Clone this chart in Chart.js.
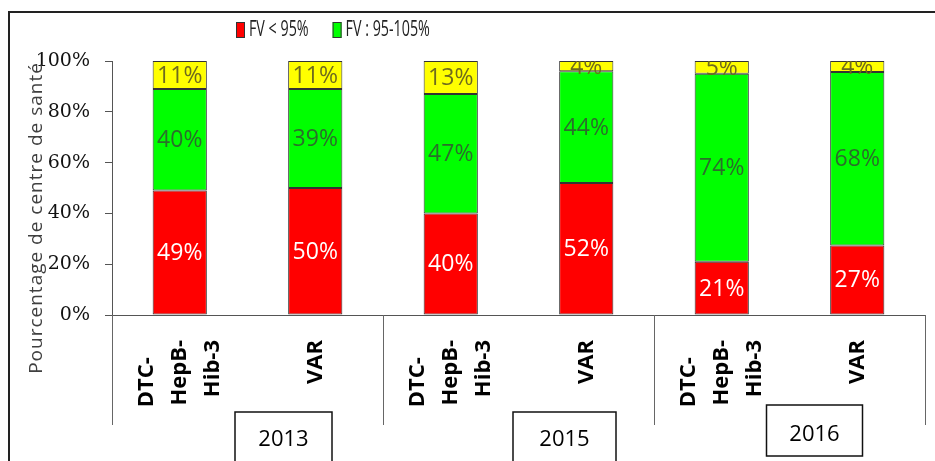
<!DOCTYPE html>
<html lang="fr">
<head>
<meta charset="UTF-8">
<title>FV par antigène 2013-2016</title>
<script src="https://cdn.jsdelivr.net/npm/chart.js@4.4.0/dist/chart.umd.min.js"></script>
<style>
  html, body { margin: 0; padding: 0; background: #fff; }
  #wrap { width: 935px; height: 461px; position: relative; }
</style>
</head>
<body>
<div id="wrap"><canvas id="chart"></canvas></div>
<script>
// data (percent of health centres)
const categories = [
  ['DTC-   ', 'HepB-', 'Hib-3'], ['', 'VAR', ''],
  ['DTC-   ', 'HepB-', 'Hib-3'], ['', 'VAR', ''],
  ['DTC-   ', 'HepB-', 'Hib-3'], ['', 'VAR', '']
];
const years = ['2013', '2015', '2016'];
const fvLow = [49, 50, 40, 52, 21, 27.4];      // FV < 95%
const fvOk = [40, 39, 47, 44, 74, 68.3];       // FV : 95-105%
const fvHigh = [11, 11, 13, 4, 5, 4.3];        // FV > 105% (not in legend)
const yTicks = [0, 20, 40, 60, 80, 100];

// where the hand placed year boxes sit, relative to each year group
const yearBoxes = [
  { dx: 36, top: 97, w: 97, h: 60, textY: 125 },
  { dx: 46, top: 97, w: 103, h: 60, textY: 125 },
  { dx: 25, top: 90, w: 96, h: 51, textY: 120 }
];

const labelColors = ['#ffffff', '#2b6e2b', '#6e6a1e'];

const decor = {
  id: 'decor',
  afterDatasetsDraw(chart) {
    const ctx = chart.ctx;
    const area = chart.chartArea;
    ctx.save();
    ctx.beginPath();
    ctx.rect(area.left, area.top, area.right - area.left, area.bottom - area.top);
    ctx.clip();
    ctx.font = '23px "Open Sans"';
    ctx.textAlign = 'center';
    ctx.textBaseline = 'middle';
    chart.data.datasets.forEach((ds, di) => {
      const meta = chart.getDatasetMeta(di);
      meta.data.forEach((bar, i) => {
        ctx.fillStyle = labelColors[di];
        ctx.fillText(Math.round(ds.data[i]) + '%', bar.x, (bar.y + bar.base) / 2 + 1);
      });
    });
    ctx.restore();
  },
  afterDraw(chart) {
    const ctx = chart.ctx;
    const area = chart.chartArea;
    const x = chart.scales.x;
    ctx.save();

    // outer frame (left and top only)
    ctx.strokeStyle = '#222';
    ctx.lineWidth = 2;
    ctx.beginPath();
    ctx.moveTo(9, 461);
    ctx.lineTo(9, 12);
    ctx.lineTo(935, 12);
    ctx.stroke();

    // group separators under the axis
    const step = x.getPixelForValue(1) - x.getPixelForValue(0);
    ctx.strokeStyle = '#666';
    ctx.lineWidth = 1;
    for (let g = 0; g <= years.length; g++) {
      const px = Math.round(x.getPixelForValue(g * 2) - step / 2) + 0.5;
      ctx.beginPath();
      ctx.moveTo(px, area.bottom);
      ctx.lineTo(px, area.bottom + 110);
      ctx.stroke();
    }

    // year boxes
    ctx.font = '22px "Open Sans"';
    ctx.textAlign = 'center';
    ctx.textBaseline = 'middle';
    years.forEach((yr, g) => {
      const b = yearBoxes[g];
      const cx = (x.getPixelForValue(g * 2) + x.getPixelForValue(g * 2 + 1)) / 2 + b.dx;
      ctx.fillStyle = '#fff';
      ctx.fillRect(cx - b.w / 2, area.bottom + b.top, b.w, b.h);
      ctx.strokeStyle = '#111';
      ctx.lineWidth = 1.5;
      ctx.strokeRect(cx - b.w / 2, area.bottom + b.top, b.w, b.h);
      ctx.fillStyle = '#000';
      ctx.fillText(yr, cx, area.bottom + b.textY);
    });

    // y axis title, drawn over the tick labels as in the original
    ctx.save();
    ctx.translate(37, area.top + 157);
    ctx.rotate(-Math.PI / 2);
    ctx.font = '19px "Open Sans"';
    ctx.letterSpacing = '1px';
    ctx.fillStyle = '#404040';
    ctx.fillText('Pourcentage de centre de santé', 0, 0);
    ctx.restore();

    // legend: first two series only, narrow text like the original
    ctx.font = '21px "Open Sans"';
    ctx.textAlign = 'left';
    ctx.textBaseline = 'middle';
    const squeeze = 0.68;
    const items = chart.data.datasets.slice(0, 2);
    let lx = 236;
    items.forEach(d => {
      ctx.fillStyle = d.backgroundColor;
      ctx.fillRect(lx, 22, 9, 16);
      ctx.strokeStyle = '#333';
      ctx.lineWidth = 1;
      ctx.strokeRect(lx + 0.5, 22.5, 8, 15);
      ctx.save();
      ctx.translate(lx + 13, 30);
      ctx.scale(squeeze, 1);
      ctx.fillStyle = '#222';
      ctx.fillText(d.label, 0, 0);
      ctx.restore();
      lx += 13 + ctx.measureText(d.label).width * squeeze + 24;
    });

    ctx.restore();
  }
};

new Chart(document.getElementById('chart'), {
  type: 'bar',
  data: {
    labels: categories,
    datasets: [
      { label: 'FV < 95%', data: fvLow, backgroundColor: '#ff0000' },
      { label: 'FV : 95-105%', data: fvOk, backgroundColor: '#00ff00' },
      { label: 'FV > 105%', data: fvHigh, backgroundColor: '#ffff00' }
    ].map(d => Object.assign(d, {
      borderColor: '#333', borderWidth: 1, borderSkipped: false,
      categoryPercentage: 0.8, barPercentage: 0.5
    }))
  },
  options: {
    responsive: true,
    maintainAspectRatio: false,
    animation: false,
    layout: { padding: { top: 61, right: 10, left: 0, bottom: 0 } },
    plugins: {
      legend: { display: false },
      tooltip: { enabled: false }
    },
    scales: {
      x: {
        stacked: true,
        grid: { display: false, drawTicks: false },
        border: { color: '#555', width: 1 },
        ticks: {
          autoSkip: false, minRotation: 90, maxRotation: 90,
          padding: 25, labelOffset: -33, color: '#000',
          font: { family: 'Open Sans', size: 22, weight: 'bold', lineHeight: 1.5 }
        },
        afterFit(s) { s.height = 146; s.paddingLeft = 0; s.paddingRight = 0; }
      },
      y: {
        stacked: true, min: 0, max: 100,
        afterBuildTicks(s) { s.ticks = yTicks.map(v => ({ value: v })); },
        ticks: {
          callback: v => v + '%', color: '#111', padding: 15,
          font: { family: 'DejaVu Serif', size: 19 }
        },
        grid: { drawOnChartArea: false, tickLength: 7, color: '#555' },
        border: { color: '#555', width: 1 },
        afterFit(s) { s.width = 112; s.paddingTop = 0; s.paddingBottom = 0; }
      }
    }
  },
  plugins: [decor]
});
</script>
</body>
</html>
